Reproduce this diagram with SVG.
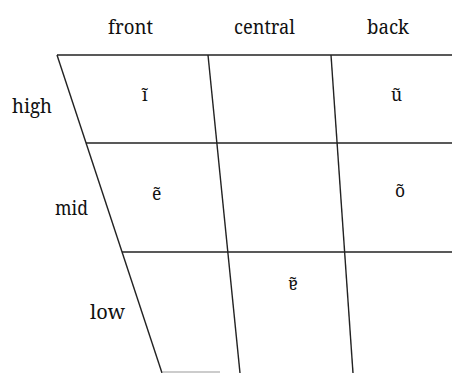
<svg xmlns="http://www.w3.org/2000/svg" width="452" height="373" viewBox="0 0 452 373">
<style>
.ln{stroke:#222;stroke-width:1.4;fill:none}
.lb{font-family:'Noto Serif','DejaVu Serif',serif;font-size:19px;fill:#111}
.v{font-family:'Noto Serif','DejaVu Serif',serif;font-size:17.5px;fill:#111}
</style>
<rect width="452" height="373" fill="#fff"/>
<g id="connectors">
<line class="ln" x1="57" y1="55" x2="452" y2="55"/>
<line class="ln" x1="86" y1="143" x2="452" y2="143"/>
<line class="ln" x1="122" y1="252" x2="452" y2="252"/>
<line class="ln" x1="57" y1="55" x2="162" y2="373"/>
<line class="ln" x1="208" y1="55" x2="240" y2="373"/>
<line class="ln" x1="331" y1="55" x2="353" y2="373"/>
<line x1="162" y1="372" x2="220" y2="372" stroke="#999" stroke-width="1.2"/>
</g>
<g id="col-front"><text class="lb" x="108" y="34" textLength="45" lengthAdjust="spacingAndGlyphs">front</text></g>
<g id="col-central"><text class="lb" x="234" y="34" textLength="61" lengthAdjust="spacingAndGlyphs">central</text></g>
<g id="col-back"><text class="lb" x="367" y="34" textLength="42" lengthAdjust="spacingAndGlyphs">back</text></g>
<g id="row-high"><text class="lb" x="12" y="113" textLength="40" lengthAdjust="spacingAndGlyphs">high</text></g>
<g id="row-mid"><text class="lb" x="55" y="215" textLength="33" lengthAdjust="spacingAndGlyphs">mid</text></g>
<g id="row-low"><text class="lb" x="90" y="319" textLength="35" lengthAdjust="spacingAndGlyphs">low</text></g>
<g id="v-i"><text class="v" x="142" y="101">ĩ</text></g>
<g id="v-u"><text class="v" x="391" y="101">ũ</text></g>
<g id="v-e"><text class="v" x="152" y="200">ẽ</text></g>
<g id="v-o"><text class="v" x="395" y="197">õ</text></g>
<g id="v-a"><text class="v" x="288" y="290">ɐ̃</text></g>
</svg>
